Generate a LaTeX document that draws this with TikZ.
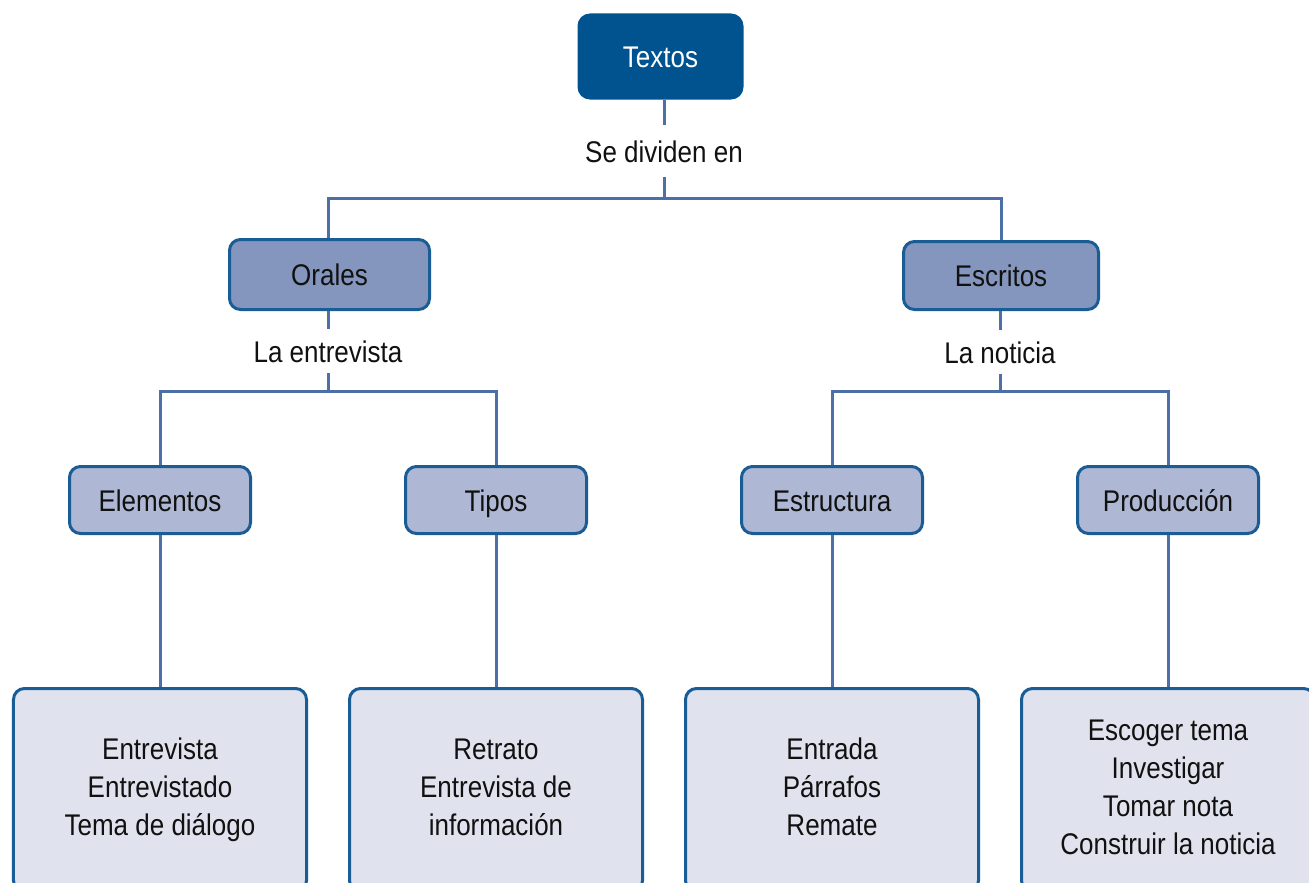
\documentclass[tikz,border=0pt]{standalone}
\usepackage{fontspec}
\setmainfont{Liberation Sans}[FakeStretch=0.87]
\definecolor{navy}{HTML}{00538F}
\definecolor{bord}{HTML}{1A5C96}
\definecolor{conn}{HTML}{4B6FA6}
\definecolor{midf}{HTML}{8496BD}
\definecolor{lowf}{HTML}{AEB7D3}
\definecolor{botf}{HTML}{E0E3ED}
\definecolor{ink}{HTML}{111111}
\newcommand{\myline}[1]{\strut #1}
\begin{document}
\begin{tikzpicture}[x=1bp,y=-1bp,
  every node/.style={font=\fontsize{30}{38}\selectfont, text=ink},
  box/.style={rounded corners=11bp, line width=3bp, draw=bord, align=center, inner sep=0pt},
  one/.style={text height=22bp, text depth=0pt},
  topbox/.style={box, one, fill=navy, draw=navy, text=white, minimum width=163bp, minimum height=83bp},
  midbox/.style={box, one, fill=midf, minimum width=200bp, minimum height=70bp},
  lowbox/.style={box, one, fill=lowf, minimum width=181bp, minimum height=67bp},
  botbox/.style={box, fill=botf, minimum width=293bp, minimum height=203bp},
  lbl/.style={one, inner sep=0pt, minimum height=51bp},
  conn/.style={draw=conn, line width=3bp}]
\clip (0,0) rectangle (1309,882);
\fill[white] (0,0) rectangle (1309,882);

\node[topbox] (textos) at (660.5,56.5) {Textos};
\node[lbl] (sediv) at (664,151) {Se dividen en};
\coordinate (bus1) at (664,198);

\node[midbox] (orales) at (329.5,274.5) {Orales};
\node[midbox, minimum width=195bp, minimum height=68bp] (escritos) at (1001,275.5) {Escritos};

\node[lbl, minimum height=43bp] (entrev) at (328,351) {La entrevista};
\coordinate (bus2) at (328,391);
\node[lbl, minimum height=43bp] (noticia) at (1000,352) {La noticia};
\coordinate (bus3) at (1000,391);

\node[lowbox] (elem) at (160,500) {Elementos};
\node[lowbox] (tipos) at (496,500) {Tipos};
\node[lowbox] (estr) at (832,500) {Estructura};
\node[lowbox] (prod) at (1168,500) {Producción};

\node[botbox] (b1) at (160,790) {\myline{Entrevista}\\\myline{Entrevistado}\\\myline{Tema de diálogo}};
\node[botbox] (b2) at (496,790) {\myline{Retrato}\\\myline{Entrevista de}\\\myline{información}};
\node[botbox] (b3) at (832,790) {\myline{Entrada}\\\myline{Párrafos}\\\myline{Remate}};
\node[botbox] (b4) at (1168,790) {\myline{Escoger tema}\\\myline{Investigar}\\\myline{Tomar nota}\\\myline{Construir la noticia}};

\path[conn] (sediv.north |- textos.south) -- (sediv.north);
\path[conn] (sediv.south) -- (bus1);
\path[conn] (entrev.north |- orales.north) |- (bus1) -| (escritos.north);

\path[conn] (entrev.north |- orales.south) -- (entrev.north);
\path[conn] (entrev.south) -- ([yshift=-2bp]bus2);
\path[conn] (elem.north) |- (bus2) -| (tipos.north);

\path[conn] (noticia.north |- escritos.south) -- (noticia.north);
\path[conn] (noticia.south) -- (bus3);
\path[conn] (estr.north) |- (bus3) -| (prod.north);

\path[conn] (elem.south) -- (b1.north);
\path[conn] (tipos.south) -- (b2.north);
\path[conn] (estr.south) -- (b3.north);
\path[conn] (prod.south) -- (b4.north);
\end{tikzpicture}
\end{document}
